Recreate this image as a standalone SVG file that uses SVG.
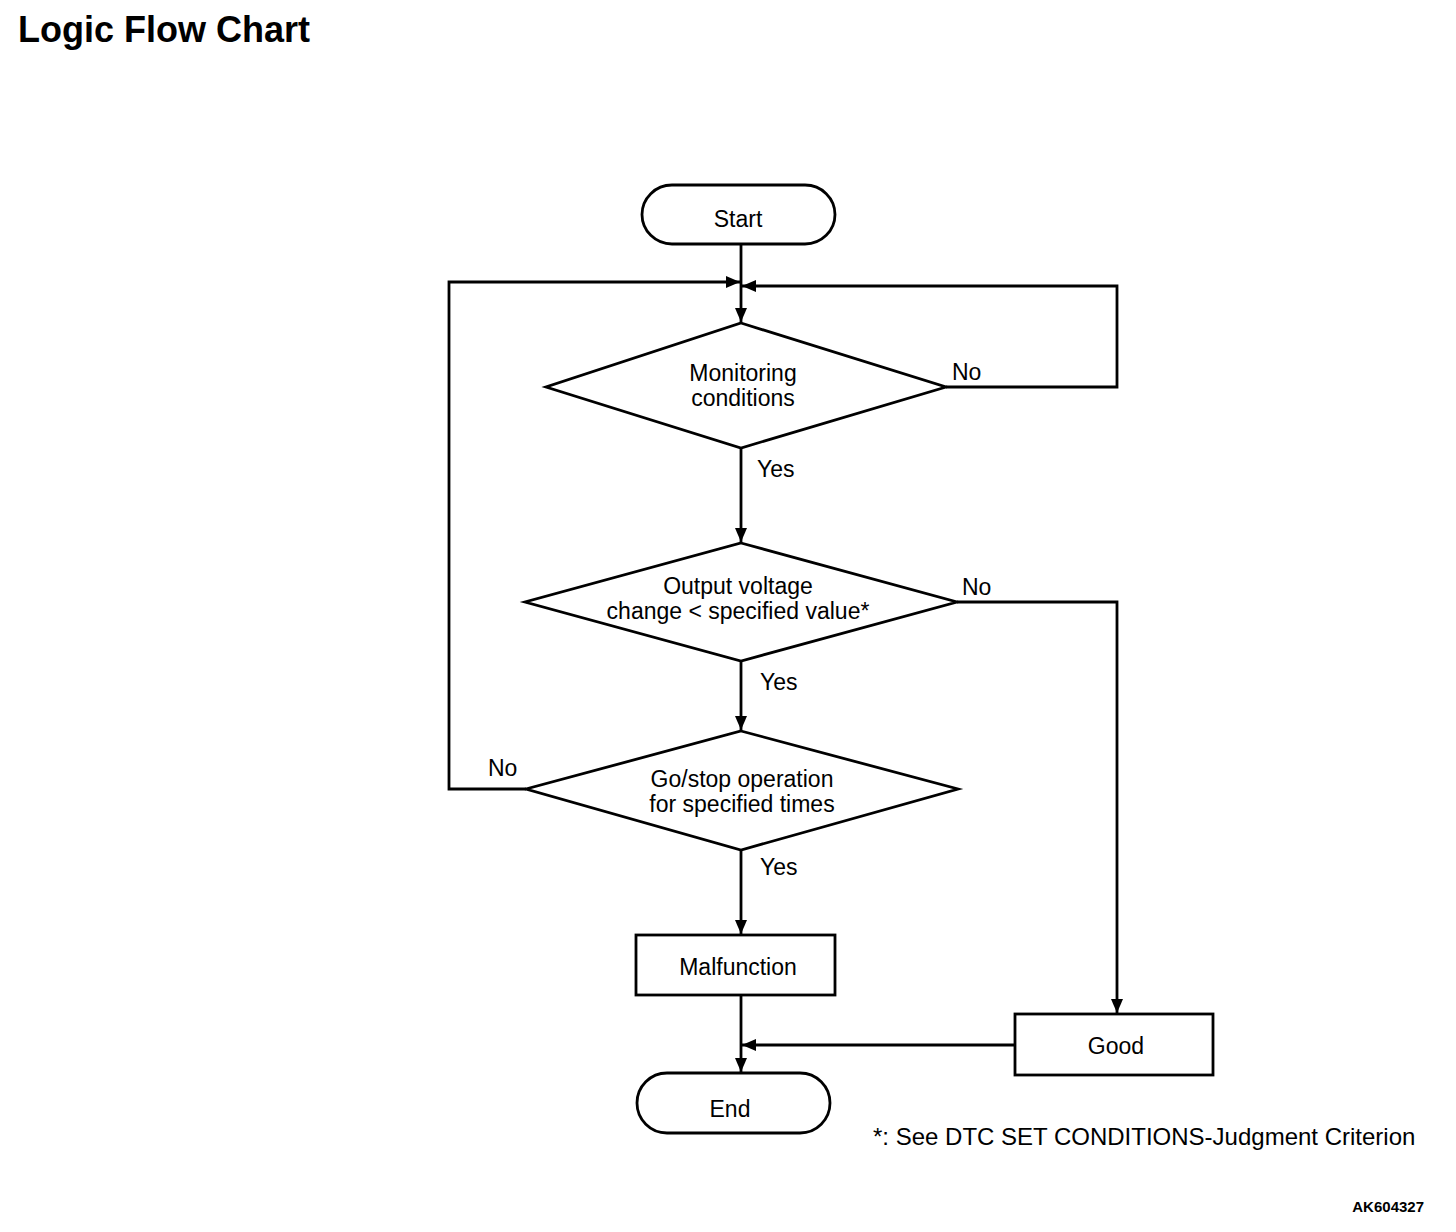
<svg xmlns="http://www.w3.org/2000/svg" width="1456" height="1232" viewBox="0 0 1456 1232">
<style>
.s{fill:#fff;stroke:#000;stroke-width:2.8}
.l{fill:none;stroke:#000;stroke-width:2.8}
.t{font-family:"Liberation Sans",Arial,sans-serif;font-size:23px;fill:#000;text-anchor:middle}
.tl{font-family:"Liberation Sans",Arial,sans-serif;font-size:23px;fill:#000}
</style>
<defs>
<marker id="a" viewBox="0 0 14 12" refX="14" refY="6" markerWidth="14" markerHeight="12" markerUnits="userSpaceOnUse" orient="auto">
<path d="M0,0 L14,6 L0,12 Z" fill="#000"/>
</marker>
</defs>
<rect width="1456" height="1232" fill="#fff"/>
<text x="18" y="42" font-family="Liberation Sans,Arial,sans-serif" font-size="36" font-weight="bold">Logic Flow Chart</text>
<g id="connectors">
<path class="l" d="M741,244 V322" marker-end="url(#a)"/>
<path class="l" d="M526,789 H449 V282 H740" marker-end="url(#a)"/>
<path class="l" d="M946,387 H1117 V286 H742" marker-end="url(#a)"/>
<path class="l" d="M741,448 V542" marker-end="url(#a)"/>
<path class="l" d="M741,661 V730" marker-end="url(#a)"/>
<path class="l" d="M957,602 H1117 V1013" marker-end="url(#a)"/>
<path class="l" d="M741,850 V934" marker-end="url(#a)"/>
<path class="l" d="M741,995 V1072" marker-end="url(#a)"/>
<path class="l" d="M1015,1045 H742" marker-end="url(#a)"/>
<text class="tl" x="952" y="380">No</text>
<text class="tl" x="757" y="477">Yes</text>
<text class="tl" x="962" y="595">No</text>
<text class="tl" x="760" y="690">Yes</text>
<text class="tl" x="488" y="776">No</text>
<text class="tl" x="760" y="875">Yes</text>
</g>
<g id="start">
<rect class="s" x="642" y="185" width="193" height="59" rx="30"/>
<text class="t" x="738" y="227">Start</text>
</g>
<g id="monitoring">
<polygon class="s" points="741,323 946,387 741,448 546,387"/>
<text class="t" x="743" y="381">Monitoring</text>
<text class="t" x="743" y="406">conditions</text>
</g>
<g id="output">
<polygon class="s" points="741,543 957,602 741,661 525,602"/>
<text class="t" x="738" y="594">Output voltage</text>
<text class="t" x="738" y="619">change &lt; specified value*</text>
</g>
<g id="gostop">
<polygon class="s" points="741,731 958,789 741,850 526,789"/>
<text class="t" x="742" y="787">Go/stop operation</text>
<text class="t" x="742" y="812">for specified times</text>
</g>
<g id="malfunction">
<rect class="s" x="636" y="935" width="199" height="60"/>
<text class="t" x="738" y="975">Malfunction</text>
</g>
<g id="good">
<rect class="s" x="1015" y="1014" width="198" height="61"/>
<text class="t" x="1116" y="1054">Good</text>
</g>
<g id="end">
<rect class="s" x="637" y="1073" width="193" height="60" rx="30"/>
<text class="t" x="730" y="1117">End</text>
</g>
<text x="873" y="1145" font-family="Liberation Sans,Arial,sans-serif" font-size="24">*: See DTC SET CONDITIONS-Judgment Criterion</text>
<text x="1424" y="1212" font-family="Liberation Sans,Arial,sans-serif" font-size="15" font-weight="bold" text-anchor="end">AK604327</text>
</svg>
